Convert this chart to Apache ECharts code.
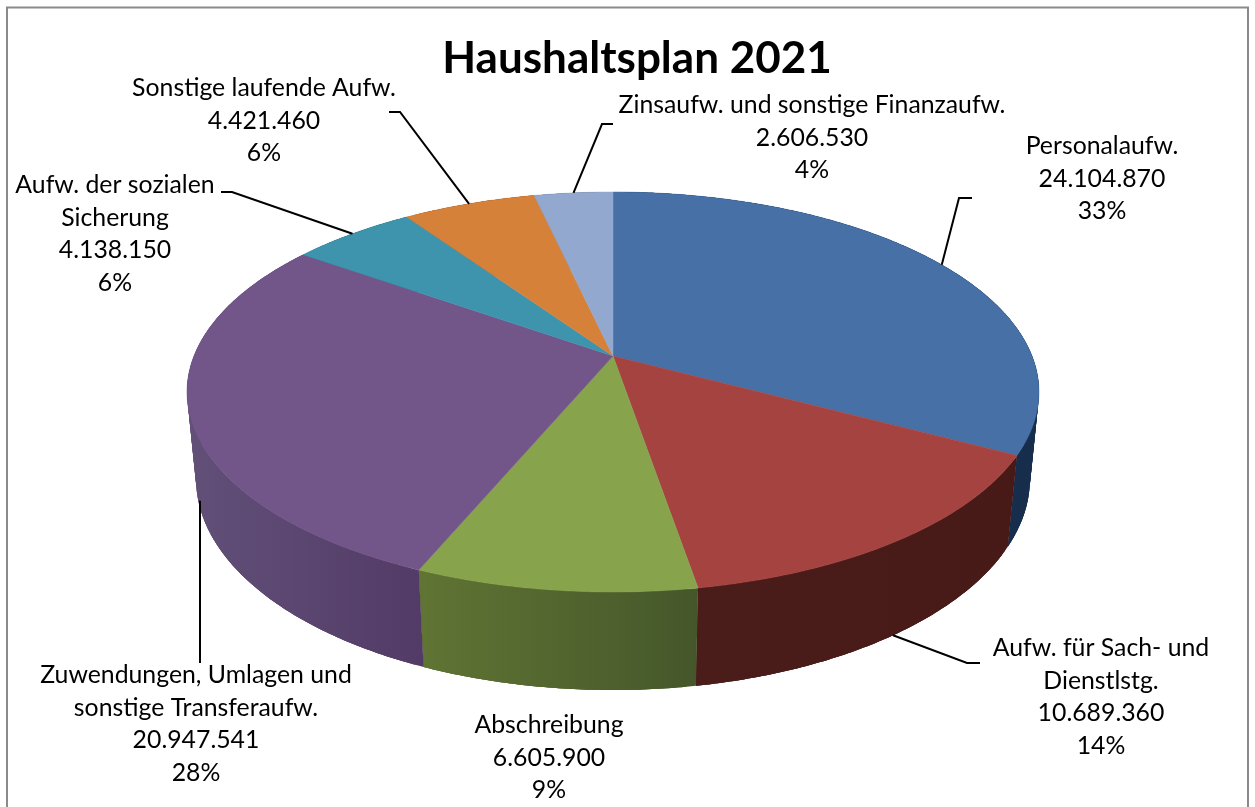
<!DOCTYPE html>
<html>
<head>
<meta charset="utf-8">
<style>html,body{margin:0;padding:0;background:#fff}#c{width:1255px;height:807px}</style>
<script src="https://cdn.jsdelivr.net/npm/echarts@6/dist/echarts.min.js"></script>
</head>
<body>
<div id="c"></div>
<script>
// ---- data ----
const categories = ['Personalaufw.', 'Aufw. für Sach- und\nDienstlstg.', 'Abschreibung',
  'Zuwendungen, Umlagen und\nsonstige Transferaufw.', 'Aufw. der sozialen\nSicherung',
  'Sonstige laufende Aufw.', 'Zinsaufw. und sonstige Finanzaufw.'];
const values = [24104870, 10689360, 6605900, 20947541, 4138150, 4421460, 2606530];
const valueLabels = ['24.104.870', '10.689.360', '6.605.900', '20.947.541', '4.138.150', '4.421.460', '2.606.530'];
const percentLabels = ['33%', '14%', '9%', '28%', '6%', '6%', '4%'];
const titleText = 'Haushaltsplan 2021';

// ---- styling ----
const topColors = ['#4670a6', '#a54341', '#87a44c', '#725589', '#3f94ad', '#d68139', '#92a8ce'];
const wallColors = [['#1c3a5e', '#162d4b'], ['#4a1c1a', '#471a18'], ['#607434', '#45572a'],
  ['#625079', '#523b66'], ['#2a6373', '#2a6373'], ['#8f5626', '#8f5626'], ['#61708a', '#61708a']];

// ---- layout: projection of the tilted disc, label centres, leader elbows ----
const CX = 613, CY = 356, AX = 419, AY = 193.5, PERSP = -0.18, DEPTH_Y = 87.4, DEPTH_W = 0.021;
const labelCenters = [[1102, 179], [1101, 697], [549, 758], [196, 724], [115, 234], [264, 121], [812, 138]];
const leaderElbows = [
  [[959, 198], [972, 198]], [[967, 663], [980, 663]], null, [[200, 663]],
  [[232, 192], [221, 192]], [[400, 112], [389, 112]], [[602, 124], [613, 124]]
];
const FONT = 'Lato, "Open Sans", sans-serif';

const total = values.reduce((a, b) => a + b, 0);
function startAngle(i) {
  let s = 0;
  for (let k = 0; k < i; k++) s += values[k];
  return s / total * Math.PI * 2;
}
function project(theta, r, depth) {
  const u = Math.sin(theta) * r, v = -Math.cos(theta) * r;
  const w = 1 + PERSP * v + DEPTH_W * depth;
  return [CX + AX * u / w, CY + (AY * v + DEPTH_Y * depth) / w];
}
function arc(a0, a1, depth) {
  const n = Math.max(4, Math.ceil((a1 - a0) / 0.01));
  const pts = [];
  for (let j = 0; j <= n; j++) pts.push(project(a0 + (a1 - a0) * j / n, 1, depth));
  return pts;
}
const rows = values.map(v => [v]);

function renderWall(params, api) {
  const i = params.dataIndex;
  const a0 = startAngle(i), a1 = a0 + api.value(0) / total * Math.PI * 2;
  const t = arc(a0, a1, 0), b = arc(a0, a1, 1);
  const xs = t.concat(b).map(p => p[0]);
  const c = wallColors[i];
  const fill = new echarts.graphic.LinearGradient(Math.min.apply(null, xs), 0, Math.max.apply(null, xs), 0, [
    { offset: 0, color: c[0] }, { offset: 1, color: c[1] }], true);
  const quads = [];
  // overlapping bands: every band's edge falls inside its neighbour, so no seams show
  const span = 6, stride = 2;
  for (let j = 0; j < t.length - 1; j += stride) {
    const k = Math.min(j + span, t.length - 1);
    quads.push({ type: 'polygon', shape: { points: t.slice(j, k + 1).concat(b.slice(j, k + 1).reverse()) },
      style: { fill: fill } });
  }
  return { type: 'group', children: quads };
}
function renderTop(params, api) {
  const i = params.dataIndex;
  const a0 = startAngle(i), a1 = a0 + api.value(0) / total * Math.PI * 2;
  const pts = [project(0, 0, 0)].concat(arc(a0, a1, 0));
  return { type: 'polygon', shape: { points: pts },
    style: { fill: topColors[i], stroke: topColors[i], lineWidth: 0.5 } };
}
function renderLabel(params, api) {
  const i = params.dataIndex;
  const a0 = startAngle(i), mid = a0 + api.value(0) / total * Math.PI;
  const front = -Math.cos(mid) > 0;
  const children = [{
    type: 'text', x: labelCenters[i][0], y: labelCenters[i][1],
    style: { text: categories[i] + '\n' + valueLabels[i] + '\n' + percentLabels[i],
      font: '24.8px ' + FONT, fill: '#000', align: 'center', verticalAlign: 'middle', lineHeight: 32.5 }
  }];
  if (leaderElbows[i]) {
    const start = project(mid, 1, front ? 1 : 0);
    const first = leaderElbows[i][0];
    if (Math.abs(start[0] - first[0]) < 4) start[0] = first[0];
    children.push({ type: 'polyline',
      shape: { points: [start].concat(leaderElbows[i]) },
      style: { fill: 'none', stroke: '#000', lineWidth: 2 } });
  }
  return { type: 'group', children: children };
}

const chart = echarts.init(document.getElementById('c'), null, { renderer: 'canvas' });
chart.setOption({
  animation: false,
  backgroundColor: '#fff',
  title: { text: titleText, left: 632, top: 32, textAlign: 'center',
    textStyle: { fontFamily: FONT, fontWeight: 'bold', fontSize: 44, color: '#000' } },
  graphic: [{ type: 'polyline', silent: true,
    shape: { points: [[7, 807], [7, 7.5], [1248, 7.5], [1248, 807]] },
    style: { fill: 'none', stroke: '#8a8a8a', lineWidth: 2 } }],
  series: [
    { type: 'custom', coordinateSystem: 'none', z: 1, silent: true, data: rows, renderItem: renderWall },
    { type: 'custom', coordinateSystem: 'none', z: 2, silent: true, data: rows, renderItem: renderTop },
    { type: 'custom', coordinateSystem: 'none', z: 3, silent: true, data: rows, renderItem: renderLabel }
  ]
});
</script>
</body>
</html>
